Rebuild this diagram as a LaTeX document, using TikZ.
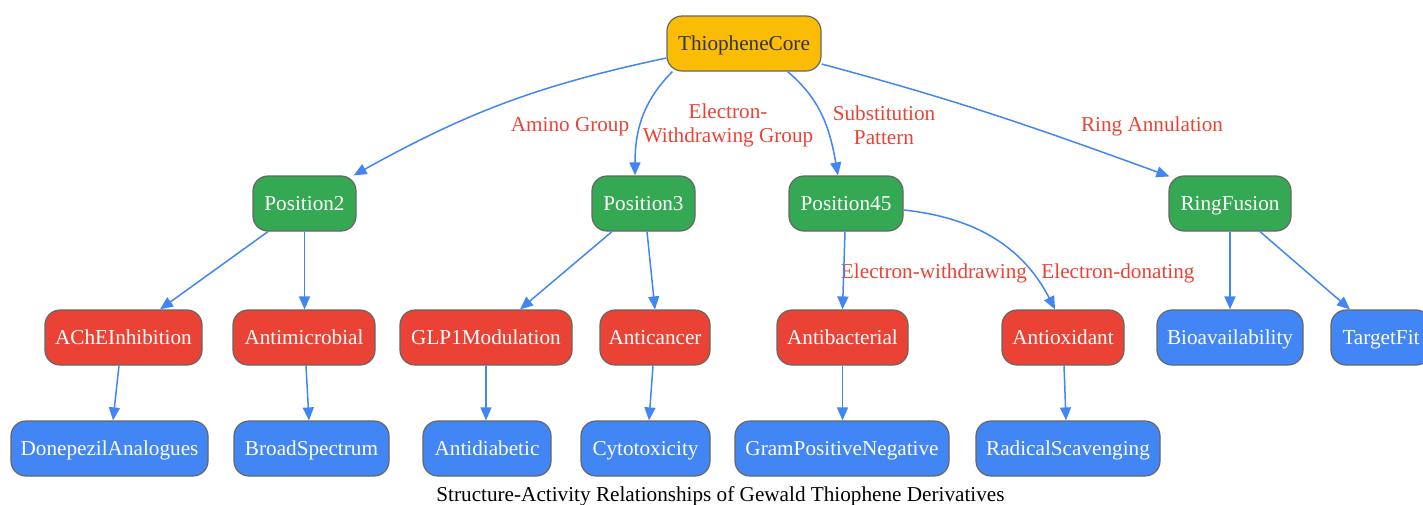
\documentclass[tikz,border=0pt]{standalone}
\usepackage{fontspec}
\setmainfont{Liberation Serif}
\usetikzlibrary{arrows.meta,calc}
\definecolor{cyel}{HTML}{FBBC05}
\definecolor{cgrn}{HTML}{34A853}
\definecolor{cred}{HTML}{EA4335}
\definecolor{cblu}{HTML}{4285F4}
\definecolor{cbord}{HTML}{666666}
\definecolor{ctxt}{HTML}{333333}
\definecolor{clbl}{HTML}{EA4335}
\tikzset{
  box/.style={rectangle, rounded corners=15pt, draw=cbord, line width=1.2pt,
    minimum height=55pt, minimum width=#1, inner sep=0pt, text=white,
    text height=14.3pt, text depth=0pt, font=\fontsize{21.2}{24}\selectfont},
  corebox/.style={box=#1, fill=cyel, text=ctxt},
  grnbox/.style={box=#1, fill=cgrn},
  redbox/.style={box=#1, fill=cred},
  blubox/.style={box=#1, fill=cblu},
  edge/.style={draw=cblu, line width=1.5pt, -{Triangle[length=13pt,width=11pt]}},
  lbl/.style={text=clbl, inner sep=0pt, font=\fontsize{21.2}{24}\selectfont, align=center},
  lbl1/.style={lbl, text height=14.3pt, text depth=0pt},
}
\begin{document}
\begin{tikzpicture}[x=1pt,y=1pt]
\useasboundingbox (0,0) rectangle (1423,-504);
\clip (0,0) rectangle (1423,-504);
% nodes
\node[corebox=154pt] (core) at (744,-43.5) {ThiopheneCore};
\node[grnbox=103pt] (p2) at (304.5,-203.5) {Position2};
\node[grnbox=103pt] (p3) at (643.5,-203.5) {Position3};
\node[grnbox=114pt] (p45) at (846,-203.5) {Position45};
\node[grnbox=122pt] (rf) at (1230,-203.5) {RingFusion};
\node[redbox=157pt] (ache) at (123.5,-337.5) {AChEInhibition};
\node[redbox=142pt] (amic) at (304,-337.5) {Antimicrobial};
\node[redbox=172pt] (glp) at (486,-337.5) {GLP1Modulation};
\node[redbox=110pt] (acan) at (655,-337.5) {Anticancer};
\node[redbox=131pt] (abac) at (842.5,-337.5) {Antibacterial};
\node[redbox=122pt] (aox) at (1063,-337.5) {Antioxidant};
\node[blubox=146pt] (bio) at (1230,-337.5) {Bioavailability};
\node[blubox=100pt] (tfit) at (1381,-337.5) {TargetFit};
\node[blubox=197pt] (done) at (109.5,-448.5) {DonepezilAnalogues};
\node[blubox=155pt] (broad) at (311.5,-448.5) {BroadSpectrum};
\node[blubox=128pt] (adia) at (487,-448.5) {Antidiabetic};
\node[blubox=129pt] (cyto) at (645.5,-448.5) {Cytotoxicity};
\node[blubox=214pt] (gram) at (842,-448.5) {GramPositiveNegative};
\node[blubox=184pt] (rad) at (1068,-448.5) {RadicalScavenging};
% edge labels
\node[lbl1] (l1) at (570,-124) {Amino Group};
\node[lbl] (l2) at (728,-125) {Electron-\\Withdrawing Group};
\node[lbl] (l3) at (884,-125) {Substitution\\Pattern};
\node[lbl1] (l4) at (1152,-124) {Ring Annulation};
\node[lbl1] (l5) at (934,-271) {Electron-withdrawing};
\node[lbl1] (l6) at (1118,-271) {Electron-donating};
% caption
\node[lbl1, text=black] (cap) at (720.5,-494) {Structure-Activity Relationships of Gewald Thiophene Derivatives};
% edges
\draw[edge] ([yshift=-14.5pt]core.west) to[out=192,in=29] ([xshift=-3pt]p2.north east);
\draw[edge] ([xshift=6pt]core.south west) to[out=225,in=90] ([xshift=-8.5pt]p3.north);
\draw[edge] ([xshift=-34pt]core.south east) to[out=-40,in=100] ([xshift=-8pt]p45.north);
\draw[edge] ([yshift=-20.5pt]core.east) to[out=-15,in=160] ([xshift=1pt,yshift=-1pt]rf.north west);
\draw[edge] ([xshift=-36.5pt]p2.south) -- ([xshift=36.5pt]ache.north);
\draw[edge] (p2.south) -- (p2.south |- amic.north);
\draw[edge] ([xshift=-31.5pt]p3.south) -- ([xshift=34pt]glp.north);
\draw[edge] ([xshift=3.5pt]p3.south) -- (acan.north);
\draw[edge] ([xshift=-1pt]p45.south) -- (abac.north);
\draw[edge] ([yshift=-6.5pt]p45.east) to[out=-6,in=117] ([xshift=-8pt]aox.north);
\draw[edge] (rf.south) -- (bio.north);
\draw[edge] ([xshift=30pt]rf.south) -- ([xshift=-31pt]tfit.north);
\draw[edge] ([xshift=-4.5pt]ache.south) -- ([xshift=3.5pt]done.north);
\draw[edge] ([xshift=2pt]amic.south) -- ([xshift=-2.5pt]broad.north);
\draw[edge] (glp.south) -- ([xshift=-1pt]adia.north);
\draw[edge] ([xshift=-2pt]acan.south) -- ([xshift=3.5pt]cyto.north);
\draw[edge] (abac.south) -- (abac.south |- gram.north);
\draw[edge] ([xshift=1pt]aox.south) -- ([xshift=-2pt]rad.north);
\end{tikzpicture}
\end{document}
